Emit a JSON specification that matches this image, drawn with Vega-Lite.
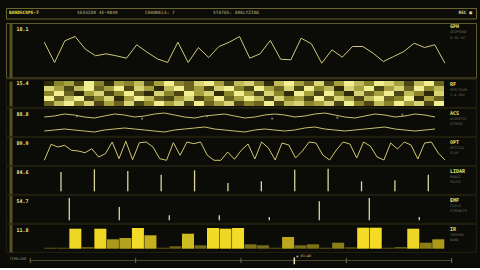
{
"$schema":"https://vega.github.io/schema/vega-lite/v6.json",
"background":"#0b0b07",
"padding":{"left":5,"top":7,"right":5,"bottom":0},
"bounds":"flush",
"spacing":4,
"resolve":{"scale":{"color":"independent"}},
"config":{"view":{"stroke":"#2a2814","strokeWidth":0.8},"font":"DejaVu Sans Mono"},
"datasets":{
"gph":[{"i":0,"v":39.3},{"i":1,"v":19},{"i":2,"v":40.7},{"i":3,"v":45},{"i":4,"v":32.3},{"i":5,"v":25.7},{"i":6,"v":27.7},{"i":7,"v":25.7},{"i":8,"v":23.3},{"i":9,"v":36.7},{"i":10,"v":29.3},{"i":11,"v":22.7},{"i":12,"v":19},{"i":13,"v":39.3},{"i":14,"v":19},{"i":15,"v":34},{"i":16,"v":24},{"i":17,"v":35},{"i":18,"v":39.3},{"i":19,"v":45},{"i":20,"v":23.3},{"i":21,"v":27.7},{"i":22,"v":41},{"i":23,"v":22.3},{"i":24,"v":21.7},{"i":25,"v":43.3},{"i":26,"v":37.7},{"i":27,"v":18.3},{"i":28,"v":31.7},{"i":29,"v":24.3},{"i":30,"v":35},{"i":31,"v":35},{"i":32,"v":28.3},{"i":33,"v":20},{"i":34,"v":25},{"i":35,"v":30},{"i":36,"v":38.3},{"i":37,"v":34},{"i":38,"v":36.7},{"i":39,"v":18.3}],
"rf":[
{"c":0,"r":0,"v":0.2},{"c":1,"r":0,"v":0.5},{"c":2,"r":0,"v":0.6},{"c":3,"r":0,"v":0.3},{"c":4,"r":0,"v":0.9},{"c":5,"r":0,"v":0.5},{"c":6,"r":0,"v":0.2},{"c":7,"r":0,"v":0.6},{"c":8,"r":0,"v":0.5},{"c":9,"r":0,"v":0.7},{"c":10,"r":0,"v":0.3},{"c":11,"r":0,"v":0.6},{"c":12,"r":0,"v":0.9},{"c":13,"r":0,"v":0.5},{"c":14,"r":0,"v":0.4},{"c":15,"r":0,"v":0.8},{"c":16,"r":0,"v":0.9},{"c":17,"r":0,"v":0.6},{"c":18,"r":0,"v":0.3},{"c":19,"r":0,"v":0.7},{"c":20,"r":0,"v":0.8},{"c":21,"r":0,"v":0.5},{"c":22,"r":0,"v":0.2},{"c":23,"r":0,"v":0.7},{"c":24,"r":0,"v":0.9},{"c":25,"r":0,"v":0.6},{"c":26,"r":0,"v":0.4},{"c":27,"r":0,"v":0.8},{"c":28,"r":0,"v":0.3},{"c":29,"r":0,"v":0.6},{"c":30,"r":0,"v":0.9},{"c":31,"r":0,"v":0.7},{"c":32,"r":0,"v":0.5},{"c":33,"r":0,"v":0.9},{"c":34,"r":0,"v":0.8},{"c":35,"r":0,"v":0.6},{"c":36,"r":0,"v":0.3},{"c":37,"r":0,"v":0.7},{"c":38,"r":0,"v":0.9},{"c":39,"r":0,"v":0.4},
{"c":0,"r":1,"v":0.8},{"c":1,"r":1,"v":0.6},{"c":2,"r":1,"v":0.3},{"c":3,"r":1,"v":0.7},{"c":4,"r":1,"v":0.9},{"c":5,"r":1,"v":0.4},{"c":6,"r":1,"v":0.6},{"c":7,"r":1,"v":0.9},{"c":8,"r":1,"v":0.3},{"c":9,"r":1,"v":0.8},{"c":10,"r":1,"v":0.6},{"c":11,"r":1,"v":0.2},{"c":12,"r":1,"v":0.7},{"c":13,"r":1,"v":0.9},{"c":14,"r":1,"v":0.4},{"c":15,"r":1,"v":0.6},{"c":16,"r":1,"v":0.3},{"c":17,"r":1,"v":0.8},{"c":18,"r":1,"v":0.9},{"c":19,"r":1,"v":0.5},{"c":20,"r":1,"v":0.3},{"c":21,"r":1,"v":0.9},{"c":22,"r":1,"v":0.6},{"c":23,"r":1,"v":0.4},{"c":24,"r":1,"v":0.8},{"c":25,"r":1,"v":0.3},{"c":26,"r":1,"v":0.9},{"c":27,"r":1,"v":0.5},{"c":28,"r":1,"v":0.7},{"c":29,"r":1,"v":0.2},{"c":30,"r":1,"v":0.8},{"c":31,"r":1,"v":0.6},{"c":32,"r":1,"v":0.9},{"c":33,"r":1,"v":0.3},{"c":34,"r":1,"v":0.6},{"c":35,"r":1,"v":0.8},{"c":36,"r":1,"v":0.4},{"c":37,"r":1,"v":0.9},{"c":38,"r":1,"v":0.5},{"c":39,"r":1,"v":0.7},
{"c":0,"r":2,"v":0.5},{"c":1,"r":2,"v":0.9},{"c":2,"r":2,"v":0.4},{"c":3,"r":2,"v":0.2},{"c":4,"r":2,"v":0.6},{"c":5,"r":2,"v":0.8},{"c":6,"r":2,"v":0.3},{"c":7,"r":2,"v":0.5},{"c":8,"r":2,"v":0.9},{"c":9,"r":2,"v":0.4},{"c":10,"r":2,"v":0.2},{"c":11,"r":2,"v":0.8},{"c":12,"r":2,"v":0.5},{"c":13,"r":2,"v":0.3},{"c":14,"r":2,"v":0.9},{"c":15,"r":2,"v":0.6},{"c":16,"r":2,"v":0.8},{"c":17,"r":2,"v":0.2},{"c":18,"r":2,"v":0.5},{"c":19,"r":2,"v":0.9},{"c":20,"r":2,"v":0.6},{"c":21,"r":2,"v":0.3},{"c":22,"r":2,"v":0.8},{"c":23,"r":2,"v":0.5},{"c":24,"r":2,"v":0.2},{"c":25,"r":2,"v":0.9},{"c":26,"r":2,"v":0.6},{"c":27,"r":2,"v":0.3},{"c":28,"r":2,"v":0.9},{"c":29,"r":2,"v":0.5},{"c":30,"r":2,"v":0.2},{"c":31,"r":2,"v":0.8},{"c":32,"r":2,"v":0.4},{"c":33,"r":2,"v":0.6},{"c":34,"r":2,"v":0.9},{"c":35,"r":2,"v":0.3},{"c":36,"r":2,"v":0.7},{"c":37,"r":2,"v":0.5},{"c":38,"r":2,"v":0.2},{"c":39,"r":2,"v":0.8},
{"c":0,"r":3,"v":0.9},{"c":1,"r":3,"v":0.4},{"c":2,"r":3,"v":0.7},{"c":3,"r":3,"v":0.9},{"c":4,"r":3,"v":0.3},{"c":5,"r":3,"v":0.5},{"c":6,"r":3,"v":0.8},{"c":7,"r":3,"v":0.2},{"c":8,"r":3,"v":0.6},{"c":9,"r":3,"v":0.9},{"c":10,"r":3,"v":0.7},{"c":11,"r":3,"v":0.4},{"c":12,"r":3,"v":0.3},{"c":13,"r":3,"v":0.6},{"c":14,"r":3,"v":0.8},{"c":15,"r":3,"v":0.3},{"c":16,"r":3,"v":0.5},{"c":17,"r":3,"v":0.9},{"c":18,"r":3,"v":0.4},{"c":19,"r":3,"v":0.6},{"c":20,"r":3,"v":0.9},{"c":21,"r":3,"v":0.7},{"c":22,"r":3,"v":0.3},{"c":23,"r":3,"v":0.8},{"c":24,"r":3,"v":0.5},{"c":25,"r":3,"v":0.6},{"c":26,"r":3,"v":0.3},{"c":27,"r":3,"v":0.9},{"c":28,"r":3,"v":0.4},{"c":29,"r":3,"v":0.8},{"c":30,"r":3,"v":0.6},{"c":31,"r":3,"v":0.3},{"c":32,"r":3,"v":0.7},{"c":33,"r":3,"v":0.9},{"c":34,"r":3,"v":0.4},{"c":35,"r":3,"v":0.5},{"c":36,"r":3,"v":0.9},{"c":37,"r":3,"v":0.2},{"c":38,"r":3,"v":0.6},{"c":39,"r":3,"v":0.4},
{"c":0,"r":4,"v":0.4},{"c":1,"r":4,"v":0.7},{"c":2,"r":4,"v":0.9},{"c":3,"r":4,"v":0.5},{"c":4,"r":4,"v":0.8},{"c":5,"r":4,"v":0.3},{"c":6,"r":4,"v":0.6},{"c":7,"r":4,"v":0.4},{"c":8,"r":4,"v":0.8},{"c":9,"r":4,"v":0.3},{"c":10,"r":4,"v":0.5},{"c":11,"r":4,"v":0.9},{"c":12,"r":4,"v":0.6},{"c":13,"r":4,"v":0.8},{"c":14,"r":4,"v":0.3},{"c":15,"r":4,"v":0.9},{"c":16,"r":4,"v":0.4},{"c":17,"r":4,"v":0.6},{"c":18,"r":4,"v":0.8},{"c":19,"r":4,"v":0.3},{"c":20,"r":4,"v":0.5},{"c":21,"r":4,"v":0.4},{"c":22,"r":4,"v":0.9},{"c":23,"r":4,"v":0.3},{"c":24,"r":4,"v":0.7},{"c":25,"r":4,"v":0.8},{"c":26,"r":4,"v":0.5},{"c":27,"r":4,"v":0.6},{"c":28,"r":4,"v":0.8},{"c":29,"r":4,"v":0.3},{"c":30,"r":4,"v":0.9},{"c":31,"r":4,"v":0.5},{"c":32,"r":4,"v":0.3},{"c":33,"r":4,"v":0.7},{"c":34,"r":4,"v":0.5},{"c":35,"r":4,"v":0.9},{"c":36,"r":4,"v":0.6},{"c":37,"r":4,"v":0.8},{"c":38,"r":4,"v":0.3},{"c":39,"r":4,"v":0.9}],
"acs":[{"i":0,"s":"a","v":25},{"i":1,"s":"a","v":26},{"i":2,"s":"a","v":28},{"i":3,"s":"a","v":27},{"i":4,"s":"a","v":25},{"i":5,"s":"a","v":24},{"i":6,"s":"a","v":26},{"i":7,"s":"a","v":28},{"i":8,"s":"a","v":27},{"i":9,"s":"a","v":25},{"i":10,"s":"a","v":26},{"i":11,"s":"a","v":28},{"i":12,"s":"a","v":29},{"i":13,"s":"a","v":27},{"i":14,"s":"a","v":25},{"i":15,"s":"a","v":24},{"i":16,"s":"a","v":26},{"i":17,"s":"a","v":27},{"i":18,"s":"a","v":28},{"i":19,"s":"a","v":26},{"i":20,"s":"a","v":24},{"i":21,"s":"a","v":25},{"i":22,"s":"a","v":27},{"i":23,"s":"a","v":28},{"i":24,"s":"a","v":27},{"i":25,"s":"a","v":25},{"i":26,"s":"a","v":26},{"i":27,"s":"a","v":28},{"i":28,"s":"a","v":29},{"i":29,"s":"a","v":27},{"i":30,"s":"a","v":25},{"i":31,"s":"a","v":24},{"i":32,"s":"a","v":26},{"i":33,"s":"a","v":28},{"i":34,"s":"a","v":27},{"i":35,"s":"a","v":25},{"i":36,"s":"a","v":26},{"i":37,"s":"a","v":28},{"i":38,"s":"a","v":27},{"i":39,"s":"a","v":25},
{"i":0,"s":"b","v":11},{"i":1,"s":"b","v":12},{"i":2,"s":"b","v":13},{"i":3,"s":"b","v":12},{"i":4,"s":"b","v":11},{"i":5,"s":"b","v":10},{"i":6,"s":"b","v":12},{"i":7,"s":"b","v":13},{"i":8,"s":"b","v":14},{"i":9,"s":"b","v":13},{"i":10,"s":"b","v":12},{"i":11,"s":"b","v":11},{"i":12,"s":"b","v":10},{"i":13,"s":"b","v":12},{"i":14,"s":"b","v":13},{"i":15,"s":"b","v":14},{"i":16,"s":"b","v":15},{"i":17,"s":"b","v":13},{"i":18,"s":"b","v":12},{"i":19,"s":"b","v":11},{"i":20,"s":"b","v":10},{"i":21,"s":"b","v":12},{"i":22,"s":"b","v":13},{"i":23,"s":"b","v":12},{"i":24,"s":"b","v":11},{"i":25,"s":"b","v":12},{"i":26,"s":"b","v":14},{"i":27,"s":"b","v":15},{"i":28,"s":"b","v":13},{"i":29,"s":"b","v":12},{"i":30,"s":"b","v":11},{"i":31,"s":"b","v":12},{"i":32,"s":"b","v":13},{"i":33,"s":"b","v":14},{"i":34,"s":"b","v":15},{"i":35,"s":"b","v":13},{"i":36,"s":"b","v":12},{"i":37,"s":"b","v":11},{"i":38,"s":"b","v":12},{"i":39,"s":"b","v":13}],
"acsdots":[{"i":3.25,"v":25.7},{"i":9.75,"v":23.3},{"i":16.25,"v":25.7},{"i":22.75,"v":23.3},{"i":29.25,"v":24.3},{"i":35.75,"v":27.3}],
"opt":[{"i":0,"v":11.7},{"i":1,"v":27.7},{"i":2,"v":25},{"i":3,"v":26.7},{"i":4,"v":21.7},{"i":5,"v":21},{"i":6,"v":19.3},{"i":7,"v":23.3},{"i":8,"v":15},{"i":9,"v":18.3},{"i":10,"v":30},{"i":11,"v":13.3},{"i":12,"v":30.7},{"i":13,"v":12.3},{"i":14,"v":29.3},{"i":15,"v":30},{"i":16,"v":25},{"i":17,"v":13.3},{"i":18,"v":11.7},{"i":19,"v":29.3},{"i":20,"v":16.7},{"i":21,"v":30},{"i":22,"v":28.3},{"i":23,"v":30},{"i":24,"v":16.7},{"i":25,"v":11.7},{"i":26,"v":11.7},{"i":27,"v":20},{"i":28,"v":12.7},{"i":29,"v":21.7},{"i":30,"v":28},{"i":31,"v":13},{"i":32,"v":30},{"i":33,"v":24},{"i":34,"v":12},{"i":35,"v":29},{"i":36,"v":27},{"i":37,"v":14},{"i":38,"v":21},{"i":39,"v":30},{"i":40,"v":29},{"i":41,"v":17},{"i":42,"v":12},{"i":43,"v":22},{"i":44,"v":30},{"i":45,"v":28},{"i":46,"v":14},{"i":47,"v":30},{"i":48,"v":26},{"i":49,"v":15},{"i":50,"v":12},{"i":51,"v":29},{"i":52,"v":23},{"i":53,"v":30},{"i":54,"v":27},{"i":55,"v":13},{"i":56,"v":29},{"i":57,"v":30},{"i":58,"v":19},{"i":59,"v":12}],
"lidar":[{"k":0,"v":19.3},{"k":1,"v":22},{"k":2,"v":20.3},{"k":3,"v":16.6},{"k":4,"v":21},{"k":5,"v":8.3},{"k":6,"v":10},{"k":7,"v":21.6},{"k":8,"v":22.6},{"k":9,"v":10},{"k":10,"v":11},{"k":11,"v":16.6}],
"emf":[{"k":0,"v":22.3},{"k":1,"v":13.3},{"k":2,"v":5},{"k":3,"v":5},{"k":4,"v":3.3},{"k":5,"v":19},{"k":6,"v":22.3},{"k":7,"v":3.3}],
"ir":[{"i":0,"h":1},{"i":1,"h":1},{"i":2,"h":20},{"i":3,"h":1.7},{"i":4,"h":20},{"i":5,"h":9.4},{"i":6,"h":10.7},{"i":7,"h":20.7},{"i":8,"h":13.4},{"i":9,"h":1},{"i":10,"h":2.4},{"i":11,"h":15},{"i":12,"h":3.4},{"i":13,"h":20.7},{"i":14,"h":20},{"i":15,"h":20.7},{"i":16,"h":4.4},{"i":17,"h":3.4},{"i":18,"h":1},{"i":19,"h":11.7},{"i":20,"h":3.4},{"i":21,"h":4.4},{"i":22,"h":1},{"i":23,"h":6},{"i":24,"h":1.4},{"i":25,"h":21},{"i":26,"h":21},{"i":27,"h":1},{"i":28,"h":1.7},{"i":29,"h":20},{"i":30,"h":6},{"i":31,"h":9.4}]
},
"vconcat":[
{"width":470,"height":10.5,
 "view":{"stroke":"#6b6630","strokeWidth":1},
 "title":{"text":"REC ■","anchor":"end","frame":"group","orient":"top","offset":0,"baseline":"middle","dy":9.5,"dx":-4,"fontSize":4.5,"color":"#d8d4a0","fontWeight":"bold"},
 "data":{"values":[{"slot":"a","item":"BANDSCOPE-7"},{"slot":"b","item":"SESSION 4E-9B40"},{"slot":"c","item":"CHANNELS: 7"},{"slot":"d","item":"STATUS: ANALYZING"}]},
 "mark":{"type":"text","align":"left","baseline":"middle","fontSize":4.5,"fontWeight":"bold"},
 "encoding":{
  "x":{"field":"slot","type":"nominal","scale":{"type":"point","domain":["a","b","c","d"],"range":[3,207],"padding":0},"axis":null},
  "color":{"field":"slot","type":"nominal","scale":{"domain":["a","b","c","d"],"range":["#f0e040","#8c8860","#8c8860","#8c8860"]},"legend":null},
  "text":{"field":"item"}}
},
{"vconcat":[
 {"width":470,"height":54.5,
  "view":{"stroke":"#5e5a2a","strokeWidth":1},
  "title":{"text":"GPH","subtitle":["GEOPHONE","0-50 HZ"],"anchor":"end","frame":"group","orient":"top","align":"left","offset":0,"baseline":"top","dy":16,"dx":-26,"fontSize":5,"color":"#e8e070","fontWeight":"bold","subtitleFontSize":3.5,"subtitleColor":"#6e6a48","subtitlePadding":1},
  "data":{"name":"gph"},
  "mark":{"type":"line","color":"#cfc97c","strokeWidth":1},
  "encoding":{
   "x":{"field":"i","type":"quantitative","scale":{"domain":[0,39],"range":[38.3,439]},"axis":null},
   "y":{"field":"v","type":"quantitative","scale":{"domain":[4,58.5]},"axis":{"orient":"left","offset":-4.5,"domain":true,"domainColor":"#57521e","domainWidth":3,"ticks":false,"labels":false,"grid":false,"title":"18.1","titleAngle":0,"titleAlign":"left","titleBaseline":"top","titleX":5.5,"titleY":3.5,"titleFontSize":5,"titleColor":"#e8e28a","titleFontWeight":"bold"}}}
 },
 {"width":470,"height":28,
  "title":{"text":"RF","subtitle":["SPECTRUM","2.4 GHZ"],"anchor":"end","frame":"group","orient":"top","align":"left","offset":0,"baseline":"top","dy":17.5,"dx":-26,"fontSize":5,"color":"#e8e070","fontWeight":"bold","subtitleFontSize":3.5,"subtitleColor":"#6e6a48","subtitlePadding":1},
  "data":{"name":"rf"},
  "mark":{"type":"rect"},
  "encoding":{
   "x":{"field":"c","type":"ordinal","scale":{"range":[38,438],"paddingInner":0,"paddingOuter":0},"axis":null},
   "y":{"field":"r","type":"ordinal","scale":{"range":[2,27],"paddingInner":0,"paddingOuter":0},"axis":{"orient":"left","offset":-4.5,"domain":true,"domainColor":"#57521e","domainWidth":3,"ticks":false,"labels":false,"grid":false,"title":"15.4","titleAngle":0,"titleAlign":"left","titleBaseline":"top","titleX":5.5,"titleY":1,"titleFontSize":5,"titleColor":"#e8e28a","titleFontWeight":"bold"}},
   "color":{"field":"v","type":"quantitative","scale":{"domain":[0.2,0.55,0.9],"range":["#2e2a0a","#9a9430","#f2ee92"]},"legend":null}}
 },
 {"width":470,"height":28,
  "title":{"text":"ACS","subtitle":["ACOUSTIC","STEREO"],"anchor":"end","frame":"group","orient":"top","align":"left","offset":0,"baseline":"top","dy":17.5,"dx":-26,"fontSize":5,"color":"#e8e070","fontWeight":"bold","subtitleFontSize":3.5,"subtitleColor":"#6e6a48","subtitlePadding":1},
  "layer":[
   {"data":{"name":"acs"},
    "mark":{"type":"line","color":"#c8c070","strokeWidth":1},
    "encoding":{
     "x":{"field":"i","type":"quantitative","scale":{"domain":[0,39],"range":[38.3,439]},"axis":null},
     "y":{"field":"v","type":"quantitative","scale":{"domain":[6,34]},"axis":{"orient":"left","offset":-4.5,"domain":true,"domainColor":"#57521e","domainWidth":3,"ticks":false,"labels":false,"grid":false,"title":"88.8","titleAngle":0,"titleAlign":"left","titleBaseline":"top","titleX":5.5,"titleY":3,"titleFontSize":5,"titleColor":"#e8e28a","titleFontWeight":"bold"}},
     "detail":{"field":"s"}}},
   {"data":{"name":"acsdots"},
    "mark":{"type":"point","filled":true,"size":5,"color":"#a8a48a"},
    "encoding":{
     "x":{"field":"i","type":"quantitative"},
     "y":{"field":"v","type":"quantitative"}}}
  ]
 },
 {"width":470,"height":28,
  "title":{"text":"OPT","subtitle":["OPTICAL","FLUX"],"anchor":"end","frame":"group","orient":"top","align":"left","offset":0,"baseline":"top","dy":17.5,"dx":-26,"fontSize":5,"color":"#e8e070","fontWeight":"bold","subtitleFontSize":3.5,"subtitleColor":"#6e6a48","subtitlePadding":1},
  "data":{"name":"opt"},
  "mark":{"type":"line","color":"#d0c870","strokeWidth":1},
  "encoding":{
   "x":{"field":"i","type":"quantitative","scale":{"domain":[0,59],"range":[38.3,439]},"axis":null},
   "y":{"field":"v","type":"quantitative","scale":{"domain":[7,35]},"axis":{"orient":"left","offset":-4.5,"domain":true,"domainColor":"#57521e","domainWidth":3,"ticks":false,"labels":false,"grid":false,"title":"80.0","titleAngle":0,"titleAlign":"left","titleBaseline":"top","titleX":5.5,"titleY":3,"titleFontSize":5,"titleColor":"#e8e28a","titleFontWeight":"bold"}}}
 },
 {"width":470,"height":28,
  "title":{"text":"LIDAR","subtitle":["RANGE","PULSE"],"anchor":"end","frame":"group","orient":"top","align":"left","offset":0,"baseline":"top","dy":17.5,"dx":-26,"fontSize":5,"color":"#e8e070","fontWeight":"bold","subtitleFontSize":3.5,"subtitleColor":"#6e6a48","subtitlePadding":1},
  "data":{"name":"lidar"},
  "mark":{"type":"rule","color":"#d8d49a","strokeWidth":1.3},
  "encoding":{
   "x":{"field":"k","type":"quantitative","scale":{"domain":[0,11],"range":[55,422.3]},"axis":null},
   "y":{"field":"v","type":"quantitative","scale":{"domain":[-2.7,25.3]},"axis":{"orient":"left","offset":-4.5,"domain":true,"domainColor":"#57521e","domainWidth":3,"ticks":false,"labels":false,"grid":false,"title":"84.6","titleAngle":0,"titleAlign":"left","titleBaseline":"top","titleX":5.5,"titleY":3,"titleFontSize":5,"titleColor":"#e8e28a","titleFontWeight":"bold"}},
   "y2":{"datum":0}}
 },
 {"width":470,"height":28,
  "title":{"text":"EMF","subtitle":["FIELD","STRENGTH"],"anchor":"end","frame":"group","orient":"top","align":"left","offset":0,"baseline":"top","dy":17.5,"dx":-26,"fontSize":5,"color":"#e8e070","fontWeight":"bold","subtitleFontSize":3.5,"subtitleColor":"#6e6a48","subtitlePadding":1},
  "data":{"name":"emf"},
  "mark":{"type":"rule","color":"#d8d49a","strokeWidth":1.3},
  "encoding":{
   "x":{"field":"k","type":"quantitative","scale":{"domain":[0,7],"range":[63.3,413.3]},"axis":null},
   "y":{"field":"v","type":"quantitative","scale":{"domain":[-2.7,25.3]},"axis":{"orient":"left","offset":-4.5,"domain":true,"domainColor":"#57521e","domainWidth":3,"ticks":false,"labels":false,"grid":false,"title":"54.7","titleAngle":0,"titleAlign":"left","titleBaseline":"top","titleX":5.5,"titleY":3,"titleFontSize":5,"titleColor":"#e8e28a","titleFontWeight":"bold"}},
   "y2":{"datum":0}}
 },
 {"width":470,"height":28,
  "title":{"text":"IR","subtitle":["THERMAL","BAND"],"anchor":"end","frame":"group","orient":"top","align":"left","offset":0,"baseline":"top","dy":17.5,"dx":-26,"fontSize":5,"color":"#e8e070","fontWeight":"bold","subtitleFontSize":3.5,"subtitleColor":"#6e6a48","subtitlePadding":1},
  "data":{"name":"ir"},
  "mark":{"type":"bar"},
  "encoding":{
   "x":{"field":"i","type":"ordinal","scale":{"range":[38.3,438.3],"paddingInner":0.04,"paddingOuter":0},"axis":null},
   "y":{"field":"h","type":"quantitative","scale":{"domain":[-3.3,24.7]},"axis":{"orient":"left","offset":-4.5,"domain":true,"domainColor":"#57521e","domainWidth":3,"ticks":false,"labels":false,"grid":false,"title":"11.8","titleAngle":0,"titleAlign":"left","titleBaseline":"top","titleX":5.5,"titleY":3,"titleFontSize":5,"titleColor":"#e8e28a","titleFontWeight":"bold"}},
   "y2":{"datum":0},
   "color":{"field":"h","type":"quantitative","scale":{"domain":[0,10,21],"range":["#5a5212","#b09e1c","#f4dc26"]},"legend":null}}
 },
 {"width":470,"height":15,
  "view":{"stroke":null},
  "layer":[
   {"data":{"values":[{"t0":0,"t1":4}]},
    "mark":{"type":"rule","color":"#4e4a2c","strokeWidth":1},
    "encoding":{
     "x":{"field":"t0","type":"quantitative","scale":{"domain":[0,4],"range":[24.3,445.7]},"axis":null},
     "x2":{"field":"t1"},
     "y":{"datum":0,"type":"quantitative","scale":{"domain":[-1,1]},"axis":{"orient":"left","offset":-3,"domain":false,"ticks":false,"labels":false,"grid":false,"title":"TIMELINE","titleAngle":0,"titleAlign":"left","titleBaseline":"top","titleX":0,"titleY":3,"titleFontSize":3.5,"titleColor":"#6e6a48"}}}},
   {"data":{"values":[{"t":0},{"t":1},{"t":2},{"t":3},{"t":4}]},
    "mark":{"type":"rule","color":"#6e6a48","strokeWidth":1},
    "encoding":{
     "x":{"field":"t","type":"quantitative"},
     "y":{"datum":-0.35},
     "y2":{"datum":0.35}}},
   {"data":{"values":[{"t":2.506,"label":"▲ 01:40"}]},
    "mark":{"type":"rule","color":"#e8e4c0","strokeWidth":1.5},
    "encoding":{
     "x":{"field":"t","type":"quantitative"},
     "y":{"datum":-0.5},
     "y2":{"datum":0.4}}},
   {"data":{"values":[{"t":2.506,"label":"▲ 01:40"}]},
    "mark":{"type":"text","align":"left","dx":2,"fontSize":3.5,"color":"#c8c4a0"},
    "encoding":{
     "x":{"field":"t","type":"quantitative"},
     "y":{"datum":0.55},
     "text":{"field":"label"}}}
  ]
 }
],"spacing":1,"bounds":"flush","resolve":{"scale":{"color":"independent"}}}
]
}
